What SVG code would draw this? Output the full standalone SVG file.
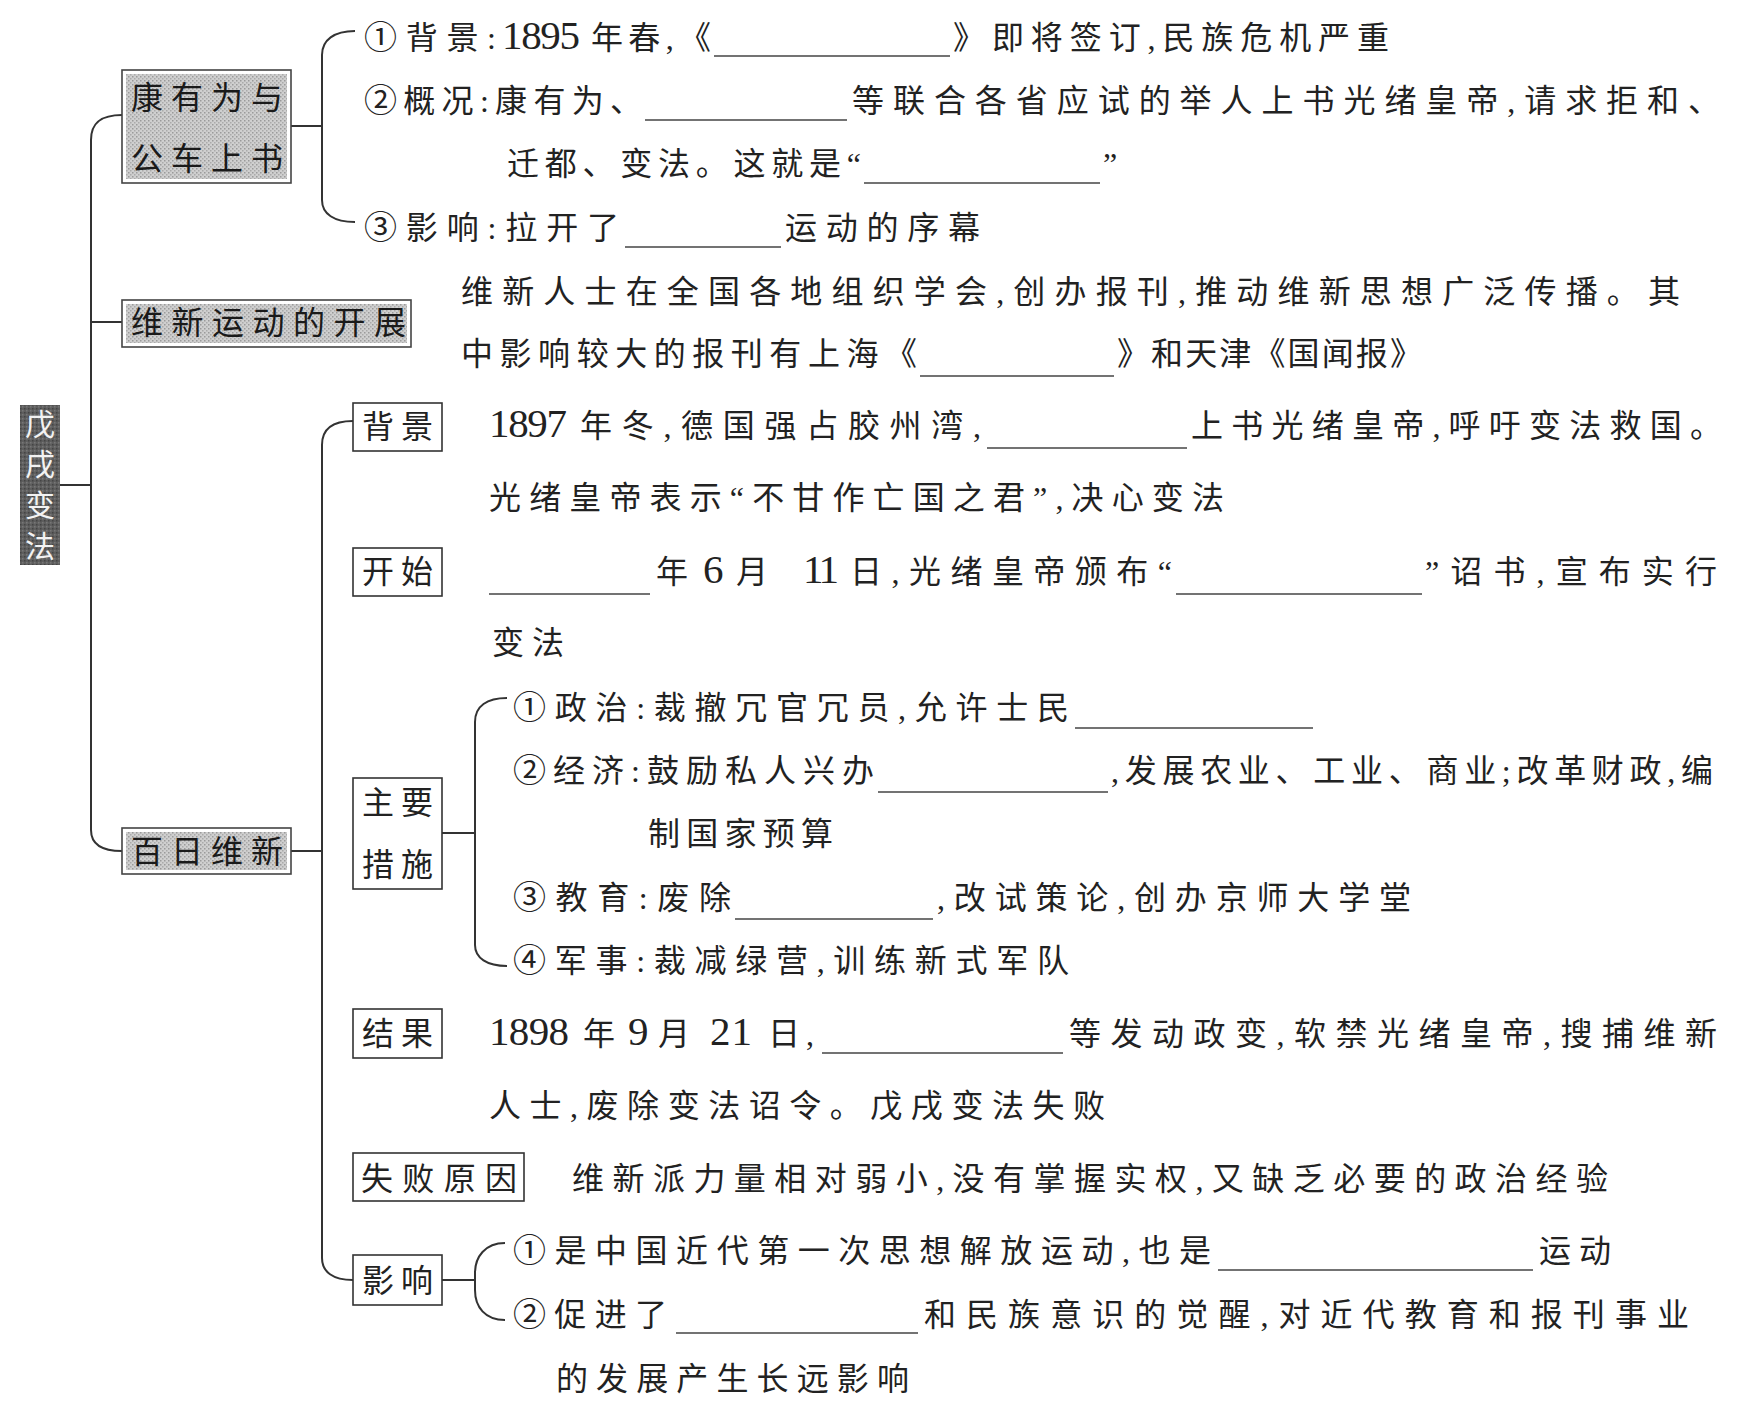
<svg xmlns="http://www.w3.org/2000/svg" width="1742" height="1403" viewBox="0 0 1742 1403">
<style>
.t{font-family:"Liberation Serif","Noto Sans CJK SC",serif;font-size:32px;fill:#222;}
.d{font-family:"Liberation Serif",serif;font-size:41px;fill:#222;}
.c{font-family:"Noto Sans CJK SC",sans-serif;font-size:33px;}
.bt{font-family:"Liberation Serif","Noto Sans CJK SC",serif;font-size:32px;fill:#1a1a1a;}
.wt{font-family:"Noto Sans CJK SC",sans-serif;font-size:30px;fill:#f2f2f2;text-anchor:middle;}
.bl{stroke:#444;stroke-width:1.5;fill:none;}
.ln{stroke:#333;stroke-width:2;fill:none;}
.box{fill:#fff;stroke:#333;stroke-width:1.6;}
.gbox{fill:#fff;stroke:#444;stroke-width:1.6;}
.gfill{fill:url(#dots);}
</style>
<defs>
<pattern id="dots" width="4" height="4" patternUnits="userSpaceOnUse">
<rect width="4" height="4" fill="#cfcfcf"/>
<rect x="0" y="0" width="1.5" height="1.5" fill="#9a9a9a"/>
<rect x="2" y="2" width="1.5" height="1.5" fill="#aaaaaa"/>
</pattern>
<pattern id="ddots" width="4" height="4" patternUnits="userSpaceOnUse">
<rect width="4" height="4" fill="#5e5e5e"/>
<rect x="0" y="0" width="1.5" height="1.5" fill="#444"/>
<rect x="2" y="2" width="1.5" height="1.5" fill="#777"/>
</pattern>
</defs>
<rect width="1742" height="1403" fill="#fff"/>

<g id="connectors">
<line class="ln" x1="59" y1="485" x2="91" y2="485"/>
<path class="ln" d="M122 115 C102 115 91 122 91 140 V830 C91 845 102 851 122 851"/>
<line class="ln" x1="91" y1="322" x2="122" y2="322"/>
<line class="ln" x1="291" y1="126" x2="322" y2="126"/>
<path class="ln" d="M355 31 C334 31 322 40 322 55 V200 C322 214 334 222 355 222"/>
<line class="ln" x1="291" y1="851" x2="322" y2="851"/>
<path class="ln" d="M353 421 C333 421 322 428 322 445 V1258 C322 1272 333 1280 353 1280"/>
<line class="ln" x1="442" y1="833" x2="475" y2="833"/>
<path class="ln" d="M507 698 C487 698 475 706 475 722 V945 C475 958 487 966 507 966"/>
<line class="ln" x1="442" y1="1280" x2="475" y2="1280"/>
<path class="ln" d="M505 1243 C485 1243 475 1257 475 1273 V1290 C475 1307 485 1320 505 1320"/>
</g>

<g id="node-root">
<rect x="20" y="405" width="40" height="160" fill="url(#ddots)"/>
<text class="wt" x="40" y="435">戊</text>
<text class="wt" x="40" y="475">戌</text>
<text class="wt" x="40" y="516">变</text>
<text class="wt" x="40" y="557">法</text>
</g>

<g id="node-kang">
<rect class="gbox" x="122" y="70" width="169" height="113"/>
<rect class="gfill" x="126" y="74" width="161" height="105"/>
<text class="bt" x="131" y="109" textLength="152" lengthAdjust="spacing">康有为与</text>
<text class="bt" x="131" y="170" textLength="152" lengthAdjust="spacing">公车上书</text>
</g>
<g id="kang-items">
<text class="t" x="364" y="49" textLength="132" lengthAdjust="spacing"><tspan class="c">①</tspan>背景:</text>
<text class="d" x="502" y="49" textLength="78" lengthAdjust="spacing">1895</text>
<text class="t" x="591" y="49" textLength="120" lengthAdjust="spacing">年春,《</text>
<line class="bl" x1="714" y1="56" x2="950" y2="56"/>
<text class="t" x="953" y="49" textLength="436" lengthAdjust="spacing">》即将签订,民族危机严重</text>
<text class="t" x="364" y="112" textLength="278" lengthAdjust="spacing"><tspan class="c">②</tspan>概况:康有为、</text>
<line class="bl" x1="645" y1="120" x2="847" y2="120"/>
<text class="t" x="852" y="112" textLength="868" lengthAdjust="spacing">等联合各省应试的举人上书光绪皇帝,请求拒和、</text>
<text class="t" x="507" y="175" textLength="354" lengthAdjust="spacing">迁都、变法。这就是“</text>
<line class="bl" x1="864" y1="183" x2="1100" y2="183"/>
<text class="t" x="1103" y="175">”</text>
<text class="t" x="364" y="239" textLength="255" lengthAdjust="spacing"><tspan class="c">③</tspan>影响:拉开了</text>
<line class="bl" x1="625" y1="247" x2="781" y2="247"/>
<text class="t" x="785" y="239" textLength="195" lengthAdjust="spacing">运动的序幕</text>
</g>

<g id="node-kaizhan">
<rect class="gbox" x="122" y="300" width="289" height="47"/>
<rect class="gfill" x="126" y="304" width="281" height="39"/>
<text class="bt" x="131" y="334" textLength="275" lengthAdjust="spacing">维新运动的开展</text>
</g>
<g id="kaizhan-text">
<text class="t" x="461" y="303" textLength="1219" lengthAdjust="spacing">维新人士在全国各地组织学会,创办报刊,推动维新思想广泛传播。其</text>
<text class="t" x="461" y="365" textLength="456" lengthAdjust="spacing">中影响较大的报刊有上海《</text>
<line class="bl" x1="920" y1="376" x2="1114" y2="376"/>
<text class="t" x="1117" y="365" textLength="305" lengthAdjust="spacing">》和天津《国闻报》</text>
</g>

<g id="node-bairi">
<rect class="gbox" x="122" y="828" width="169" height="46"/>
<rect class="gfill" x="126" y="832" width="161" height="38"/>
<text class="bt" x="131" y="863" textLength="152" lengthAdjust="spacing">百日维新</text>
</g>

<g id="node-beijing">
<rect class="box" x="353" y="403" width="89" height="48"/>
<text class="t" x="362" y="438" textLength="71" lengthAdjust="spacing">背景</text>
</g>
<g id="beijing-text">
<text class="d" x="489" y="437" textLength="78" lengthAdjust="spacing">1897</text>
<text class="t" x="580" y="437" textLength="401" lengthAdjust="spacing">年冬,德国强占胶州湾,</text>
<line class="bl" x1="987" y1="448" x2="1187" y2="448"/>
<text class="t" x="1191" y="437" textLength="531" lengthAdjust="spacing">上书光绪皇帝,呼吁变法救国。</text>
<text class="t" x="489" y="509" textLength="735" lengthAdjust="spacing">光绪皇帝表示“不甘作亡国之君”,决心变法</text>
</g>

<g id="node-kaishi">
<rect class="box" x="353" y="548" width="89" height="48"/>
<text class="t" x="362" y="583" textLength="71" lengthAdjust="spacing">开始</text>
</g>
<g id="kaishi-text">
<line class="bl" x1="489" y1="594" x2="650" y2="594"/>
<text class="t" x="656" y="583">年</text>
<text class="d" x="703" y="583">6</text>
<text class="t" x="736" y="583">月</text>
<text class="d" x="803" y="583" textLength="36" lengthAdjust="spacing">11</text>
<text class="t" x="850" y="583" textLength="322" lengthAdjust="spacing">日,光绪皇帝颁布“</text>
<line class="bl" x1="1176" y1="594" x2="1422" y2="594"/>
<text class="t" x="1425" y="583" textLength="292" lengthAdjust="spacing">”诏书,宣布实行</text>
<text class="t" x="492" y="654" textLength="72" lengthAdjust="spacing">变法</text>
</g>

<g id="node-cuoshi">
<rect class="box" x="353" y="778" width="89" height="111"/>
<text class="t" x="362" y="814" textLength="71" lengthAdjust="spacing">主要</text>
<text class="t" x="362" y="876" textLength="71" lengthAdjust="spacing">措施</text>
</g>
<g id="cuoshi-items">
<text class="t" x="513" y="719" textLength="556" lengthAdjust="spacing"><tspan class="c">①</tspan>政治:裁撤冗官冗员,允许士民</text>
<line class="bl" x1="1075" y1="728" x2="1313" y2="728"/>
<text class="t" x="513" y="782" textLength="361" lengthAdjust="spacing"><tspan class="c">②</tspan>经济:鼓励私人兴办</text>
<line class="bl" x1="878" y1="792" x2="1108" y2="792"/>
<text class="t" x="1111" y="782" textLength="602" lengthAdjust="spacing">,发展农业、工业、商业;改革财政,编</text>
<text class="t" x="648" y="845" textLength="185" lengthAdjust="spacing">制国家预算</text>
<text class="t" x="513" y="909" textLength="218" lengthAdjust="spacing"><tspan class="c">③</tspan>教育:废除</text>
<line class="bl" x1="735" y1="919" x2="933" y2="919"/>
<text class="t" x="937" y="909" textLength="474" lengthAdjust="spacing">,改试策论,创办京师大学堂</text>
<text class="t" x="513" y="972" textLength="556" lengthAdjust="spacing"><tspan class="c">④</tspan>军事:裁减绿营,训练新式军队</text>
</g>

<g id="node-jieguo">
<rect class="box" x="353" y="1009" width="89" height="49"/>
<text class="t" x="362" y="1045" textLength="71" lengthAdjust="spacing">结果</text>
</g>
<g id="jieguo-text">
<text class="d" x="489" y="1045" textLength="80" lengthAdjust="spacing">1898</text>
<text class="t" x="583" y="1045">年</text>
<text class="d" x="628" y="1045">9</text>
<text class="t" x="658" y="1045">月</text>
<text class="d" x="710" y="1045" textLength="42" lengthAdjust="spacing">21</text>
<text class="t" x="768" y="1045" textLength="46" lengthAdjust="spacing">日,</text>
<line class="bl" x1="822" y1="1053" x2="1063" y2="1053"/>
<text class="t" x="1069" y="1045" textLength="648" lengthAdjust="spacing">等发动政变,软禁光绪皇帝,搜捕维新</text>
<text class="t" x="489" y="1117" textLength="616" lengthAdjust="spacing">人士,废除变法诏令。戊戌变法失败</text>
</g>

<g id="node-yuanyin">
<rect class="box" x="353" y="1153" width="171" height="48"/>
<text class="t" x="361" y="1190" textLength="156" lengthAdjust="spacing">失败原因</text>
</g>
<g id="yuanyin-text">
<text class="t" x="572" y="1190" textLength="1036" lengthAdjust="spacing">维新派力量相对弱小,没有掌握实权,又缺乏必要的政治经验</text>
</g>

<g id="node-yingxiang">
<rect class="box" x="353" y="1255" width="89" height="50"/>
<text class="t" x="362" y="1292" textLength="71" lengthAdjust="spacing">影响</text>
</g>
<g id="yingxiang-items">
<text class="t" x="513" y="1262" textLength="698" lengthAdjust="spacing"><tspan class="c">①</tspan>是中国近代第一次思想解放运动,也是</text>
<line class="bl" x1="1218" y1="1270" x2="1533" y2="1270"/>
<text class="t" x="1539" y="1262" textLength="72" lengthAdjust="spacing">运动</text>
<text class="t" x="513" y="1326" textLength="154" lengthAdjust="spacing"><tspan class="c">②</tspan>促进了</text>
<line class="bl" x1="676" y1="1333" x2="918" y2="1333"/>
<text class="t" x="924" y="1326" textLength="765" lengthAdjust="spacing">和民族意识的觉醒,对近代教育和报刊事业</text>
<text class="t" x="556" y="1390" textLength="353" lengthAdjust="spacing">的发展产生长远影响</text>
</g>
</svg>
